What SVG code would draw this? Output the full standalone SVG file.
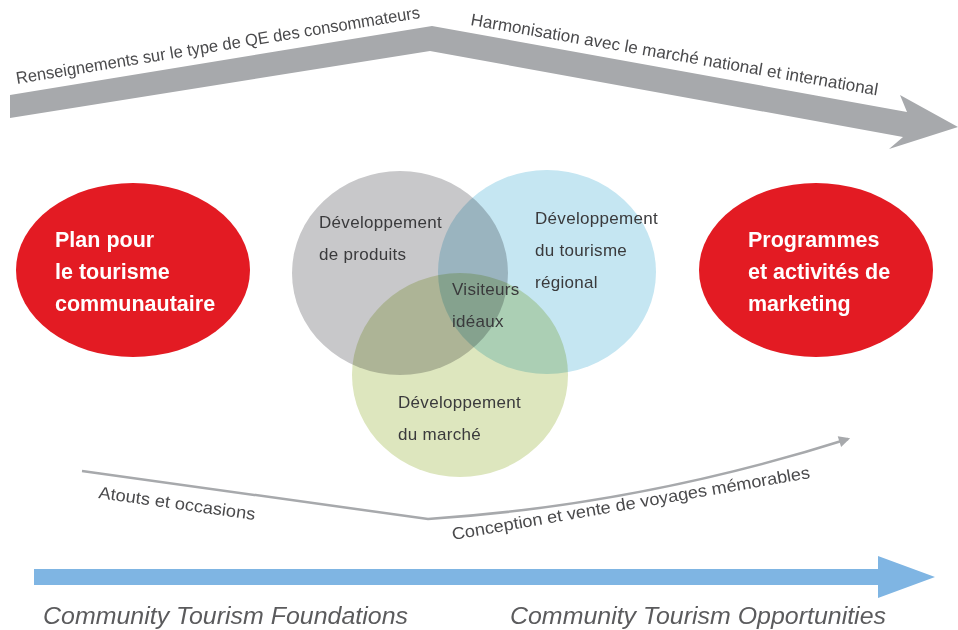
<svg xmlns="http://www.w3.org/2000/svg" width="958" height="630" viewBox="0 0 958 630">
<defs>
<style>
.lbl{font-family:"Liberation Sans",Arial,Helvetica,sans-serif;fill:#4a4a4c;font-size:17px}
.venn{font-family:"Liberation Sans",Arial,Helvetica,sans-serif;fill:#3a3a3c;font-size:17px;letter-spacing:0.3px}
.red{font-family:"Liberation Sans",Arial,Helvetica,sans-serif;fill:#ffffff;font-size:21.5px;font-weight:bold}
.foot{font-family:"Liberation Sans",Arial,Helvetica,sans-serif;fill:#5b5b5d;font-size:24.5px;font-style:italic}
.circ{mix-blend-mode:multiply}
</style>
<marker id="ah" viewBox="0 0 10 10" refX="8" refY="5" markerWidth="6" markerHeight="4.5" markerUnits="strokeWidth" orient="auto">
<path d="M0,0 L10,5 L0,10 Z" fill="#a7a9ac"/>
</marker>
</defs>
<rect width="958" height="630" fill="#ffffff"/>
<g id="connectors">
<polygon points="10,95 432,26 907,112 900,95 958,127 889,149 903,137 430,51 10,118" fill="#a7a9ac"/>
<path d="M82,471 L428,519 Q640,505 848,439" fill="none" stroke="#a7a9ac" stroke-width="2.5" marker-end="url(#ah)"/>
<polygon points="34,569 878,569 878,556 935,577 878,598 878,585 34,585" fill="#7fb5e3"/>
</g>
<g id="labels">
<text class="lbl" transform="translate(17,84) rotate(-9.3)" textLength="409" lengthAdjust="spacingAndGlyphs">Renseignements sur le type de QE des consommateurs</text>
<text class="lbl" transform="translate(470,25) rotate(9.8)" textLength="413" lengthAdjust="spacingAndGlyphs">Harmonisation avec le marché national et international</text>
<text class="lbl" transform="translate(98,498) rotate(8)" textLength="158" lengthAdjust="spacingAndGlyphs">Atouts et occasions</text>
<text class="lbl" transform="translate(453,540) rotate(-9.85)" textLength="363" lengthAdjust="spacingAndGlyphs">Conception et vente de voyages mémorables</text>
<text class="foot" x="43" y="624" textLength="365" lengthAdjust="spacingAndGlyphs">Community Tourism Foundations</text>
<text class="foot" x="510" y="624" textLength="376" lengthAdjust="spacingAndGlyphs">Community Tourism Opportunities</text>
</g>
<g id="plan">
<ellipse cx="133" cy="270" rx="117" ry="87" fill="#e31b23"/>
<text class="red" x="55" y="247">Plan pour</text>
<text class="red" x="55" y="279">le tourisme</text>
<text class="red" x="55" y="311">communautaire</text>
</g>
<g id="marketing">
<ellipse cx="816" cy="270" rx="117" ry="87" fill="#e31b23"/>
<text class="red" x="748" y="247">Programmes</text>
<text class="red" x="748" y="279">et activités de</text>
<text class="red" x="748" y="311">marketing</text>
</g>
<g id="venn" style="isolation:isolate">
<g id="produits">
<ellipse class="circ" cx="400" cy="273" rx="108" ry="102" fill="#c8c8ca"/>
</g>
<g id="regional">
<ellipse class="circ" cx="547" cy="272" rx="109" ry="102" fill="#c5e6f2"/>
</g>
<g id="marche">
<ellipse class="circ" cx="460" cy="375" rx="108" ry="102" fill="#dde6be"/>
</g>
</g>
<g id="venn-labels">
<text class="venn" x="319" y="228">Développement</text>
<text class="venn" x="319" y="260">de produits</text>
<text class="venn" x="535" y="224">Développement</text>
<text class="venn" x="535" y="256">du tourisme</text>
<text class="venn" x="535" y="288">régional</text>
<text class="venn" x="452" y="295">Visiteurs</text>
<text class="venn" x="452" y="327">idéaux</text>
<text class="venn" x="398" y="408">Développement</text>
<text class="venn" x="398" y="440">du marché</text>
</g>
</svg>
